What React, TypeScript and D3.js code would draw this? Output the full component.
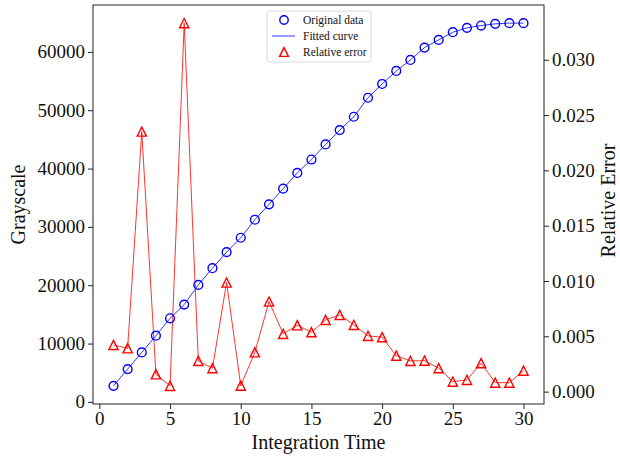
import React, { useRef, useEffect } from "react";
import * as d3 from "d3";

// integration time steps
const times = [
  1, 2, 3, 4, 5, 6, 7, 8, 9, 10, 11, 12, 13, 14, 15,
  16, 17, 18, 19, 20, 21, 22, 23, 24, 25, 26, 27, 28, 29, 30,
];

// measured grayscale
const grayscale = [
  2750, 5620, 8480, 11350, 14330, 16680, 20060, 22920, 25670, 28140,
  31230, 33870, 36560, 39250, 41550, 44130, 46590, 48880, 52140, 54500,
  56730, 58620, 60740, 62060, 63380, 64120, 64520, 64810, 64930, 64930,
];

// relative error of the fit
const relError = [
  0.00422, 0.00392, 0.02351, 0.00157, 0.00052, 0.03331, 0.00278, 0.00212,
  0.00986, 0.00054, 0.00356, 0.00814, 0.00522, 0.006, 0.00537, 0.00648,
  0.00694, 0.00603, 0.00504, 0.00492, 0.00325, 0.00278, 0.0028, 0.00212,
  0.0009, 0.00106, 0.00257, 0.00081, 0.00081, 0.0019,
];

const leftTicks = [0, 10000, 20000, 30000, 40000, 50000, 60000];
const rightTicks = [0, 0.005, 0.01, 0.015, 0.02, 0.025, 0.03];
const xTicks = [0, 5, 10, 15, 20, 25, 30];

const W = 620;
const H = 460;
const margin = { left: 93, right: 76, top: 5, bottom: 56 };
const FONT = "'Liberation Serif', 'Times New Roman', serif";

function padded(vals: number[]) {
  const [a, b] = d3.extent(vals) as [number, number];
  const p = (b - a) * 0.05;
  return [a - p, b + p];
}

function tri(s: number) {
  return `M0,${-s}L${s},${s}L${-s},${s}Z`;
}

function App() {
  const svgRef = useRef<SVGSVGElement>(null);

  useEffect(() => {
    const svg = d3.select(svgRef.current);
    svg.selectAll("*").remove();

    const x0 = margin.left;
    const x1 = W - margin.right;
    const y0 = H - margin.bottom;
    const y1 = margin.top;

    const x = d3.scaleLinear().domain(padded(times)).range([x0, x1]);
    const yL = d3.scaleLinear().domain(padded(grayscale)).range([y0, y1]);
    const yR = d3.scaleLinear().domain(padded(relError)).range([y0, y1]);

    const g = svg.append("g").attr("font-family", FONT);

    // red error series (second axis)
    const errLine = d3
      .line<number>()
      .x((d, i) => x(times[i]))
      .y((d) => yR(d));
    g.append("path")
      .datum(relError)
      .attr("d", errLine)
      .attr("fill", "none")
      .attr("stroke", "#ff0000")
      .attr("stroke-width", 0.8);
    g.selectAll(".tri")
      .data(relError)
      .join("path")
      .attr("class", "tri")
      .attr("d", tri(4.6))
      .attr("transform", (d, i) => `translate(${x(times[i])},${yR(d)})`)
      .attr("fill", "none")
      .attr("stroke", "#ff0000")
      .attr("stroke-width", 1.4);

    // blue grayscale series
    const grayLine = d3
      .line<number>()
      .x((d, i) => x(times[i]))
      .y((d) => yL(d));
    g.append("path")
      .datum(grayscale)
      .attr("d", grayLine)
      .attr("fill", "none")
      .attr("stroke", "#0000ff")
      .attr("stroke-width", 0.8);
    g.selectAll(".dot")
      .data(grayscale)
      .join("circle")
      .attr("class", "dot")
      .attr("cx", (d, i) => x(times[i]))
      .attr("cy", (d) => yL(d))
      .attr("r", 4.4)
      .attr("fill", "none")
      .attr("stroke", "#0000ff")
      .attr("stroke-width", 1.4);

    // frame
    g.append("rect")
      .attr("x", x0)
      .attr("y", y1)
      .attr("width", x1 - x0)
      .attr("height", y0 - y1)
      .attr("fill", "none")
      .attr("stroke", "#222")
      .attr("stroke-width", 1);

    const styleAxis = (sel: any) => {
      sel.attr("font-family", FONT).attr("font-size", 19);
      sel.select(".domain").remove();
      sel.selectAll("line").attr("stroke", "#222");
      sel.selectAll("text")
        .attr("fill", "#111")
        .attr("font-family", FONT)
        .style("font-family", FONT)
        .style("font-size", "19px");
    };

    g.append("g")
      .attr("transform", `translate(0,${y0})`)
      .call(d3.axisBottom(x).tickValues(xTicks).tickSize(5).tickPadding(3))
      .call(styleAxis);

    g.append("g")
      .attr("transform", `translate(${x0},0)`)
      .call(d3.axisLeft(yL).tickValues(leftTicks).tickFormat(d3.format("d")).tickSize(5).tickPadding(3))
      .call(styleAxis);

    g.append("g")
      .attr("transform", `translate(${x1},0)`)
      .call(d3.axisRight(yR).tickValues(rightTicks).tickFormat(d3.format(".3f")).tickSize(5).tickPadding(3))
      .call(styleAxis);

    // axis labels
    const midY = (y0 + y1) / 2;
    g.append("text")
      .attr("x", (x0 + x1) / 2)
      .attr("y", 449)
      .attr("text-anchor", "middle")
      .style("font-size", "20px")
      .attr("fill", "#111")
      .text("Integration Time");
    g.append("text")
      .attr("transform", `translate(25,${midY}) rotate(-90)`)
      .attr("text-anchor", "middle")
      .style("font-size", "20px")
      .attr("fill", "#111")
      .text("Grayscale");
    g.append("text")
      .attr("transform", `translate(615,${midY - 4}) rotate(-90)`)
      .attr("text-anchor", "middle")
      .style("font-size", "20px")
      .attr("fill", "#111")
      .text("Relative Error");

    // legend
    const lg = g.append("g").attr("transform", "translate(267,11)");
    lg.append("rect")
      .attr("width", 104)
      .attr("height", 51)
      .attr("rx", 2)
      .attr("fill", "white")
      .attr("fill-opacity", 0.8)
      .attr("stroke", "#d0d0d0")
      .attr("stroke-width", 0.8);
    const rows = [
      { label: "Original data", kind: "circle" },
      { label: "Fitted curve", kind: "line" },
      { label: "Relative error", kind: "tri" },
    ];
    rows.forEach((r, i) => {
      const cy = 9 + i * 16;
      if (r.kind === "circle") {
        lg.append("circle").attr("cx", 17).attr("cy", cy).attr("r", 4.2)
          .attr("fill", "none").attr("stroke", "#0000ff").attr("stroke-width", 1.4);
      } else if (r.kind === "line") {
        lg.append("line").attr("x1", 5).attr("x2", 28).attr("y1", cy).attr("y2", cy)
          .attr("stroke", "#0000ff").attr("stroke-width", 0.8);
      } else {
        lg.append("path").attr("d", tri(4.4)).attr("transform", `translate(17,${cy})`)
          .attr("fill", "none").attr("stroke", "#ff0000").attr("stroke-width", 1.4);
      }
      lg.append("text")
        .attr("x", 36)
        .attr("y", cy)
        .attr("dy", "0.35em")
        .style("font-size", "11.5px")
        .attr("fill", "#111")
        .text(r.label);
    });
  }, []);

  return (
    <svg
      ref={svgRef}
      width={W}
      height={H}
      style={{ position: "absolute", left: 0, top: 0, background: "white" }}
    />
  );
}

export default App;
